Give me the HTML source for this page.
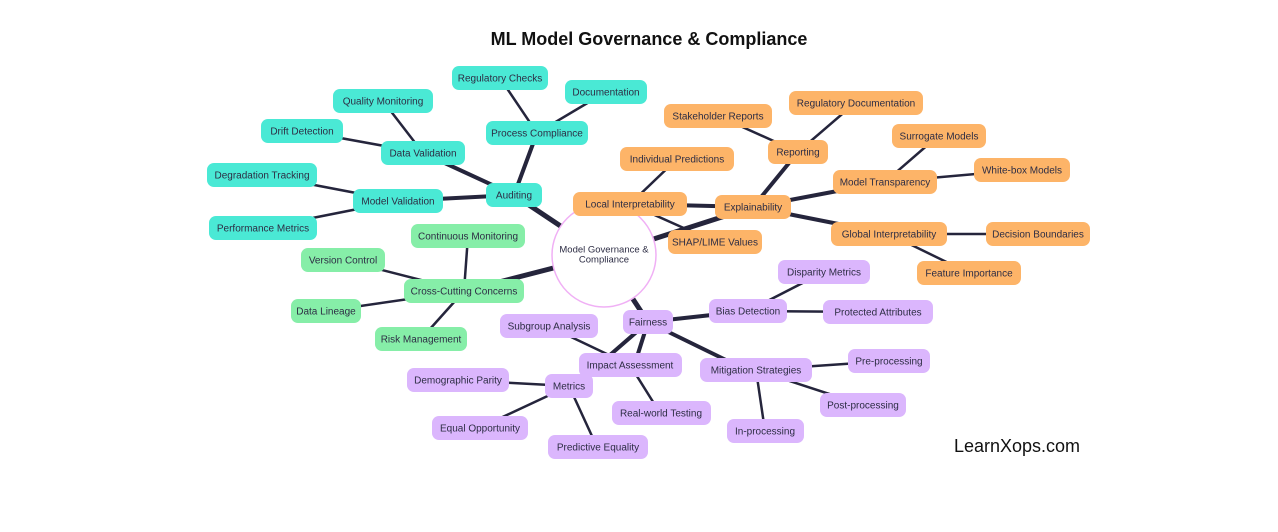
<!DOCTYPE html>
<html><head><meta charset="utf-8"><style>
html,body{margin:0;padding:0;background:#fff;}
svg{display:block;}
text{font-family:"Liberation Sans",sans-serif;font-size:10px;fill:#2d2d44;text-anchor:middle;dominant-baseline:central;transform:translateY(1px);}
.t{fill:#4ae9d5}.g{fill:#86eea8}.o{fill:#fdb468}.p{fill:#dbb6fd}
line{stroke:#25253c;stroke-linecap:round}
.a{stroke-width:5}.b{stroke-width:4}.c{stroke-width:2.5}
</style></head><body>
<svg width="1278" height="532" viewBox="0 0 1278 532">
<text x="649" y="38" style="font-size:18px;font-weight:bold;fill:#111">ML Model Governance &amp; Compliance</text>
<text x="1017" y="445" style="font-size:18px;fill:#111">LearnXops.com</text>
<line class="a" x1="604" y1="255" x2="514" y2="195"/>
<line class="a" x1="604" y1="255" x2="464" y2="291"/>
<line class="a" x1="604" y1="255" x2="753" y2="207"/>
<line class="a" x1="604" y1="255" x2="648" y2="322"/>
<line class="b" x1="514" y1="195" x2="537" y2="133"/>
<line class="b" x1="514" y1="195" x2="423" y2="153"/>
<line class="b" x1="514" y1="195" x2="398" y2="201"/>
<line class="c" x1="537" y1="133" x2="500" y2="78"/>
<line class="c" x1="537" y1="133" x2="606" y2="92"/>
<line class="c" x1="423" y1="153" x2="383" y2="101"/>
<line class="c" x1="423" y1="153" x2="302" y2="131"/>
<line class="c" x1="398" y1="201" x2="262" y2="175"/>
<line class="c" x1="398" y1="201" x2="262" y2="228"/>
<line class="c" x1="464" y1="291" x2="468" y2="236"/>
<line class="c" x1="464" y1="291" x2="343" y2="260"/>
<line class="c" x1="464" y1="291" x2="326" y2="311"/>
<line class="c" x1="464" y1="291" x2="421" y2="339"/>
<line class="b" x1="753" y1="207" x2="630" y2="204"/>
<line class="b" x1="753" y1="207" x2="798" y2="152"/>
<line class="b" x1="753" y1="207" x2="885" y2="182"/>
<line class="b" x1="753" y1="207" x2="889" y2="234"/>
<line class="c" x1="630" y1="204" x2="677" y2="159"/>
<line class="c" x1="630" y1="204" x2="715" y2="242"/>
<line class="c" x1="798" y1="152" x2="718" y2="116"/>
<line class="c" x1="798" y1="152" x2="855" y2="103"/>
<line class="c" x1="885" y1="182" x2="938" y2="136"/>
<line class="c" x1="885" y1="182" x2="1021" y2="170"/>
<line class="c" x1="889" y1="234" x2="1038" y2="234"/>
<line class="c" x1="889" y1="234" x2="969" y2="273"/>
<line class="b" x1="648" y1="322" x2="748" y2="311"/>
<line class="b" x1="648" y1="322" x2="610" y2="355"/>
<line class="b" x1="648" y1="322" x2="636" y2="360"/>
<line class="b" x1="648" y1="322" x2="730" y2="362"/>
<line class="c" x1="748" y1="311" x2="824" y2="272"/>
<line class="c" x1="748" y1="311" x2="877" y2="312"/>
<line class="c" x1="610" y1="355" x2="569" y2="386"/>
<line class="c" x1="630" y1="365" x2="548" y2="326"/>
<line class="c" x1="630" y1="365" x2="660" y2="413"/>
<line class="c" x1="569" y1="386" x2="458" y2="380"/>
<line class="c" x1="569" y1="386" x2="479" y2="428"/>
<line class="c" x1="569" y1="386" x2="597" y2="447"/>
<line class="c" x1="756" y1="370" x2="888" y2="361"/>
<line class="c" x1="756" y1="370" x2="863" y2="405"/>
<line class="c" x1="756" y1="370" x2="765" y2="431"/>
<circle cx="604" cy="255" r="52" fill="#fff" stroke="#f0b0f5" stroke-width="1.5"/>
<text x="604" y="249" style="font-size:9.5px">Model Governance &amp;</text>
<text x="604" y="259" style="font-size:9.5px">Compliance</text>
<g><rect class="t" x="486" y="183" width="56" height="24" rx="7"/><text x="514" y="195">Auditing</text></g>
<g><rect class="t" x="486" y="121" width="102" height="24" rx="7"/><text x="537" y="133">Process Compliance</text></g>
<g><rect class="t" x="452" y="66" width="96" height="24" rx="7"/><text x="500" y="78">Regulatory Checks</text></g>
<g><rect class="t" x="565" y="80" width="82" height="24" rx="7"/><text x="606" y="92">Documentation</text></g>
<g><rect class="t" x="381" y="141" width="84" height="24" rx="7"/><text x="423" y="153">Data Validation</text></g>
<g><rect class="t" x="333" y="89" width="100" height="24" rx="7"/><text x="383" y="101">Quality Monitoring</text></g>
<g><rect class="t" x="261" y="119" width="82" height="24" rx="7"/><text x="302" y="131">Drift Detection</text></g>
<g><rect class="t" x="353" y="189" width="90" height="24" rx="7"/><text x="398" y="201">Model Validation</text></g>
<g><rect class="t" x="207" y="163" width="110" height="24" rx="7"/><text x="262" y="175">Degradation Tracking</text></g>
<g><rect class="t" x="209" y="216" width="108" height="24" rx="7"/><text x="263" y="228">Performance Metrics</text></g>
<g><rect class="g" x="404" y="279" width="120" height="24" rx="7"/><text x="464" y="291">Cross-Cutting Concerns</text></g>
<g><rect class="g" x="411" y="224" width="114" height="24" rx="7"/><text x="468" y="236">Continuous Monitoring</text></g>
<g><rect class="g" x="301" y="248" width="84" height="24" rx="7"/><text x="343" y="260">Version Control</text></g>
<g><rect class="g" x="291" y="299" width="70" height="24" rx="7"/><text x="326" y="311">Data Lineage</text></g>
<g><rect class="g" x="375" y="327" width="92" height="24" rx="7"/><text x="421" y="339">Risk Management</text></g>
<g><rect class="o" x="573" y="192" width="114" height="24" rx="7"/><text x="630" y="204">Local Interpretability</text></g>
<g><rect class="o" x="620" y="147" width="114" height="24" rx="7"/><text x="677" y="159">Individual Predictions</text></g>
<g><rect class="o" x="668" y="230" width="94" height="24" rx="7"/><text x="715" y="242">SHAP/LIME Values</text></g>
<g><rect class="o" x="715" y="195" width="76" height="24" rx="7"/><text x="753" y="207">Explainability</text></g>
<g><rect class="o" x="768" y="140" width="60" height="24" rx="7"/><text x="798" y="152">Reporting</text></g>
<g><rect class="o" x="664" y="104" width="108" height="24" rx="7"/><text x="718" y="116">Stakeholder Reports</text></g>
<g><rect class="o" x="789" y="91" width="134" height="24" rx="7"/><text x="856" y="103">Regulatory Documentation</text></g>
<g><rect class="o" x="833" y="170" width="104" height="24" rx="7"/><text x="885" y="182">Model Transparency</text></g>
<g><rect class="o" x="892" y="124" width="94" height="24" rx="7"/><text x="939" y="136">Surrogate Models</text></g>
<g><rect class="o" x="974" y="158" width="96" height="24" rx="7"/><text x="1022" y="170">White-box Models</text></g>
<g><rect class="o" x="831" y="222" width="116" height="24" rx="7"/><text x="889" y="234">Global Interpretability</text></g>
<g><rect class="o" x="986" y="222" width="104" height="24" rx="7"/><text x="1038" y="234">Decision Boundaries</text></g>
<g><rect class="o" x="917" y="261" width="104" height="24" rx="7"/><text x="969" y="273">Feature Importance</text></g>
<g><rect class="p" x="623" y="310" width="50" height="24" rx="7"/><text x="648" y="322">Fairness</text></g>
<g><rect class="p" x="709" y="299" width="78" height="24" rx="7"/><text x="748" y="311">Bias Detection</text></g>
<g><rect class="p" x="778" y="260" width="92" height="24" rx="7"/><text x="824" y="272">Disparity Metrics</text></g>
<g><rect class="p" x="823" y="300" width="110" height="24" rx="7"/><text x="878" y="312">Protected Attributes</text></g>
<g><rect class="p" x="500" y="314" width="98" height="24" rx="7"/><text x="549" y="326">Subgroup Analysis</text></g>
<g><rect class="p" x="579" y="353" width="103" height="24" rx="7"/><text x="630" y="365">Impact Assessment</text></g>
<g><rect class="p" x="700" y="358" width="112" height="24" rx="7"/><text x="756" y="370">Mitigation Strategies</text></g>
<g><rect class="p" x="848" y="349" width="82" height="24" rx="7"/><text x="889" y="361">Pre-processing</text></g>
<g><rect class="p" x="820" y="393" width="86" height="24" rx="7"/><text x="863" y="405">Post-processing</text></g>
<g><rect class="p" x="727" y="419" width="77" height="24" rx="7"/><text x="765" y="431">In-processing</text></g>
<g><rect class="p" x="612" y="401" width="99" height="24" rx="7"/><text x="661" y="413">Real-world Testing</text></g>
<g><rect class="p" x="545" y="374" width="48" height="24" rx="7"/><text x="569" y="386">Metrics</text></g>
<g><rect class="p" x="407" y="368" width="102" height="24" rx="7"/><text x="458" y="380">Demographic Parity</text></g>
<g><rect class="p" x="432" y="416" width="96" height="24" rx="7"/><text x="480" y="428">Equal Opportunity</text></g>
<g><rect class="p" x="548" y="435" width="100" height="24" rx="7"/><text x="598" y="447">Predictive Equality</text></g>
</svg>
</body></html>
